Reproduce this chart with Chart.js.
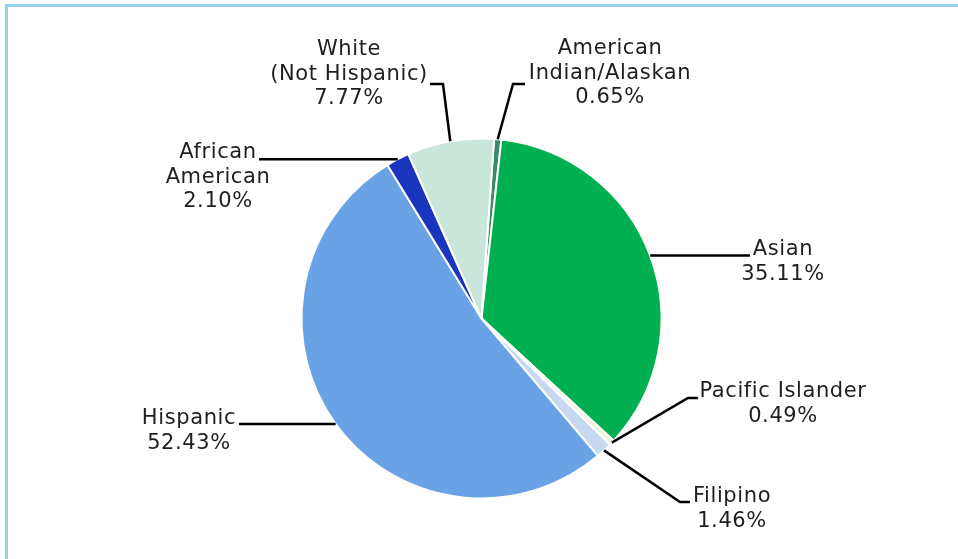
<!DOCTYPE html>
<html>
<head>
<meta charset="utf-8">
<script src="https://cdn.jsdelivr.net/npm/chart.js@4/dist/chart.umd.min.js"></script>
<style>
  html, body { margin: 0; padding: 0; background: #fff; overflow: hidden; }
  #frame { position: absolute; left: 5px; top: 4px; width: 2000px; height: 2000px; z-index: 2;
           border-top: 3px solid #98CFF0; border-left: 3px solid #98CFF0; }
  #pie { position: absolute; left: 0; top: 0; }
</style>
</head>
<body>
<canvas id="pie" width="958" height="559"></canvas>
<div id="frame"></div>
<script>
let labels = ["American Indian/Alaskan", "Asian", "Pacific Islander", "Filipino", "Hispanic", "African American", "White (Not Hispanic)"];
let shares = [0.65, 35.11, 0.49, 1.46, 52.43, 2.10, 7.77];
let colors = ["#3B8B69", "#00B050", "#EEF5D8", "#C6D9F1", "#6AA2E6", "#1A35BE", "#C9E6DA"];

// label text lines, centre x / first baseline, leader line points after the slice anchor
let labelLines = [
  ["American", "Indian/Alaskan", "0.65%"],
  ["Asian", "35.11%"],
  ["Pacific Islander", "0.49%"],
  ["Filipino", "1.46%"],
  ["Hispanic", "52.43%"],
  ["African", "American", "2.10%"],
  ["White", "(Not Hispanic)", "7.77%"],
];
let labelPos = [[610, 54], [783, 255], [783, 397], [732, 502], [189, 424], [218, 158], [349, 55]];
let leaders = [
  [[513, 84], [525, 84]],
  [["h", 750]],
  [[688, 398], [698, 398]],
  [[680, 502], [690, 502]],
  [["h", 239]],
  [["h", 259]],
  [[443, 84], [430, 84]],
];

const calloutPlugin = {
  id: "callouts",
  afterDatasetsDraw(chart) {
    const ctx = chart.ctx;
    const arcs = chart.getDatasetMeta(0).data;
    ctx.save();
    ctx.strokeStyle = "#000";
    ctx.lineWidth = 2.5;
    arcs.forEach((arc, i) => {
      const mid = (arc.startAngle + arc.endAngle) / 2;
      const ax = arc.x + Math.cos(mid) * arc.outerRadius;
      const ay = arc.y + Math.sin(mid) * arc.outerRadius;
      ctx.beginPath();
      ctx.moveTo(ax, ay);
      leaders[i].forEach(p => {
        if (p[0] === "h") ctx.lineTo(p[1], ay);
        else ctx.lineTo(p[0], p[1]);
      });
      ctx.stroke();
    });
    ctx.fillStyle = "#1e1e1e";
    ctx.font = "21px 'DejaVu Sans'";
    ctx.letterSpacing = "0.6px";
    ctx.textAlign = "center";
    ctx.textBaseline = "alphabetic";
    labelLines.forEach((lines, i) => {
      lines.forEach((t, k) => {
        ctx.fillText(t, labelPos[i][0], labelPos[i][1] + k * 24.5);
      });
    });
    ctx.restore();
  }
};

new Chart("pie", {
  type: "pie",
  data: {
    labels: labels,
    datasets: [{
      data: shares,
      backgroundColor: colors,
      borderColor: "#ffffff",
      borderWidth: 2,
    }],
  },
  options: {
    responsive: false,
    animation: false,
    rotation: 4,
    radius: 180,
    layout: { padding: { left: 100, right: 95, top: 139, bottom: 61 } },
    plugins: { legend: { display: false }, tooltip: { enabled: false } },
  },
  plugins: [calloutPlugin],
});
</script>
</body>
</html>
